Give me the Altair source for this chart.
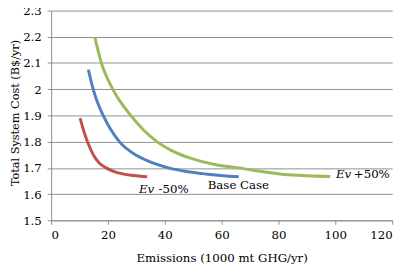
import altair as alt
import pandas as pd

# Curve data (Emissions in 1000 mt GHG/yr, Total cost in B$/yr)
red_x = [10.2, 11.5, 12.8, 15.4, 17.0, 19.4, 21.7, 25.2, 29.0, 33.8]
red_y = [1.89, 1.84, 1.80, 1.74, 1.718, 1.70, 1.688, 1.677, 1.671, 1.666]

blue_x = [13.1, 14.8, 16.3, 18.3, 24.0, 30.3, 36.0, 41.3, 47.6, 55.0, 66.0]
blue_y = [2.075, 2.0, 1.95, 1.9, 1.8, 1.746, 1.718, 1.70, 1.686, 1.676, 1.666]

green_x = [15.4, 17.7, 21.7, 28.0, 37.2, 42.4, 49.0, 58.0, 66.0, 74.0, 82.0, 90.0, 98.2]
green_y = [2.197, 2.10, 2.0, 1.9, 1.8, 1.766, 1.737, 1.712, 1.70, 1.686, 1.675, 1.670, 1.667]

series_names = ["Ev -50%", "Base Case", "Ev +50%"]
series_colors = ["#C0504D", "#4F81BD", "#9BBB59"]

# Labels
lab_prefix = ["Ev", "", "Ev"]
lab_prefix_x = [30.9, 55.1, 100.2]
lab_suffix = ["-50%", "Base Case", "+50%"]
lab_suffix_x = [37.8, 55.1, 106.5]
lab_y = [1.621, 1.636, 1.676]

x_ticks = [0, 20, 40, 60, 80, 100, 120]
y_ticks = [1.5, 1.6, 1.7, 1.8, 1.9, 2.0, 2.1, 2.2, 2.3]

rows = []
for name, xs, ys in zip(series_names, [red_x, blue_x, green_x], [red_y, blue_y, green_y]):
    for i, (a, b) in enumerate(zip(xs, ys)):
        rows.append({"series": name, "x": a, "y": b, "order": i})
df = pd.DataFrame(rows)

lab_df = pd.DataFrame({
    "pre": lab_prefix, "prex": lab_prefix_x,
    "suf": lab_suffix, "sufx": lab_suffix_x, "y": lab_y,
})

FONT = "DejaVu Serif"
FS = 12
GRID = "#8e8e8e"

xscale = alt.Scale(domain=[0, 120], nice=False, zero=False)
yscale = alt.Scale(domain=[1.5, 2.3], nice=False, zero=False)

xaxis = alt.Axis(title="Emissions (1000 mt GHG/yr)", values=x_ticks, grid=False,
                 tickSize=4, labelPadding=6, titlePadding=12, labelOverlap=False,
                 labelFont=FONT)
yaxis = alt.Axis(title="Total System Cost (B$/yr)", values=y_ticks, format="~g",
                 grid=True, tickSize=4, labelPadding=6,
                 titleX=-31, titleY=104, titleAngle=270, titleBaseline="bottom",
                 titleAlign="center", titleFontSize=11.5,
                 labelOverlap=False, labelFont=FONT)

lines = alt.Chart(df).mark_line(strokeWidth=3, interpolate="monotone").encode(
    x=alt.X("x:Q", scale=xscale, axis=xaxis),
    y=alt.Y("y:Q", scale=yscale, axis=yaxis),
    color=alt.Color("series:N", scale=alt.Scale(domain=series_names, range=series_colors), legend=None),
    order="order:Q",
)

pre = alt.Chart(lab_df).mark_text(align="left", baseline="middle", font=FONT, fontSize=FS,
                                  fontStyle="italic", color="black").encode(
    x=alt.X("prex:Q", scale=xscale, axis=xaxis), y=alt.Y("y:Q", scale=yscale, axis=yaxis), text="pre:N")
suf = alt.Chart(lab_df).mark_text(align="left", baseline="middle", font=FONT, fontSize=FS,
                                  color="black").encode(
    x=alt.X("sufx:Q", scale=xscale, axis=xaxis), y=alt.Y("y:Q", scale=yscale, axis=yaxis), text="suf:N")

chart = alt.layer(lines, pre, suf).properties(
    width=348, height=214,
    autosize=alt.AutoSizeParams(type="none"),
    padding={"left": 44, "top": 0, "right": 10, "bottom": 45},
).configure_view(stroke=None).configure_axis(
    domainColor=GRID, tickColor=GRID, gridColor=GRID, gridWidth=1, domainWidth=1,
    labelFont=FONT, labelFontSize=FS, labelColor="black",
    titleFont=FONT, titleFontSize=FS, titleFontWeight="normal", titleColor="black",
)

chart.save("out.html", embed_options={"renderer": "svg", "actions": False})
